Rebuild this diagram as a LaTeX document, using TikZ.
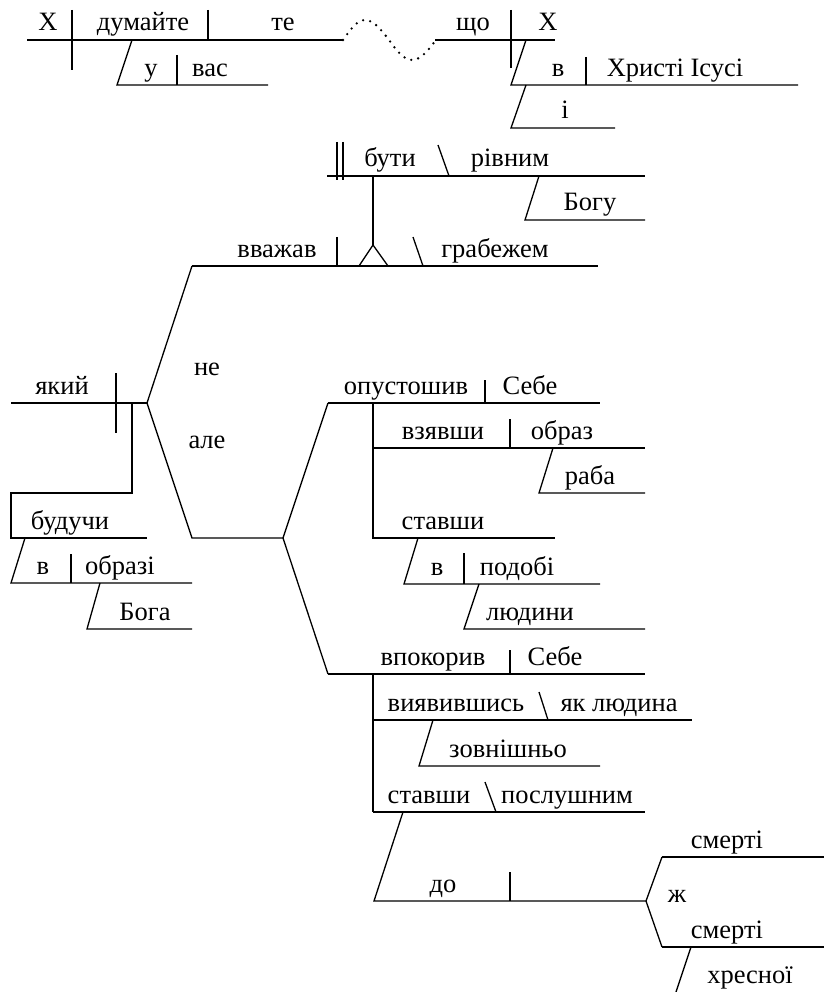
\documentclass[tikz,border=0pt]{standalone}
\usepackage{fontspec}
\setmainfont{Liberation Serif}
\begin{document}
\begin{tikzpicture}[x=1pt,y=-1pt,line width=1.3pt,
  w/.style={anchor=base,inner sep=0pt,font=\fontsize{26.5}{31}\selectfont},
  dotwave/.style={line width=2.6pt,line cap=round,dash pattern=on 0pt off 7.2pt}]
\useasboundingbox (0,0) rectangle (824,992);
% ---------- top clause
\draw (27,40) -- (343,40);
\draw (72,10) -- (72,70);
\draw (208,10) -- (208,40);
\draw (132,40) -- (117,85) -- (268,85);
\draw (177,55) -- (177,85);
\node[w] (x1) at (48,31) {X};
\node[w] (dum) at (143,31) {думайте};
\node[w] (te) at (283,31) {те};
\node[w] (u) at (151,77) {у};
\node[w] (vas) at (210,77) {вас};
\draw[dotwave] (343,40) sin (365,20) cos (389,40) sin (412,60) cos (436,40);
\draw (435,40) -- (555,40);
\draw (511,10) -- (511,68);
\draw (526,40) -- (511,85) -- (798,85);
\draw (586,57) -- (586,85);
\draw (526,85) -- (511,128) -- (615,128);
\node[w] (shcho) at (473,31) {що};
\node[w] (x2) at (548,31) {X};
\node[w] (v1) at (558,77) {в};
\node[w] (hr) at (675,77) {Христі Ісусі};
\node[w] (i) at (565,119) {і};
% ---------- бути рівним
\draw (327,176) -- (645,176);
\draw (337,142) -- (337,180);
\draw (343,142) -- (343,180);
\draw (438,145) -- (449,176);
\draw (539,176) -- (525,220) -- (645,220);
\node[w] (buty) at (390,167) {бути};
\node[w] (rivn) at (510,167) {рівним};
\node[w] (bogu) at (590,211) {Богу};
\draw (373,176) -- (373,245);
\draw (373,245) -- (359,266) (373,245) -- (388,266);
% ---------- вважав
\draw (192,266) -- (598,266);
\draw (337,237) -- (337,266);
\draw (413,237) -- (423,266);
\node[w] (vvazh) at (277,257) {вважав};
\node[w] (grab) at (495,257) {грабежем};
% ---------- який
\draw (11,403) -- (147,403);
\draw (116,373) -- (116,433);
\draw (132,403) -- (132,493) -- (11,493) -- (11,538) -- (147,538);
\node[w] (yakyi) at (62,394) {який};
\node[w] (buduchy) at (70,529) {будучи};
\draw (25,538) -- (11,583) -- (192,583);
\draw (71,554) -- (71,583);
\node[w] (v2) at (43,574) {в};
\node[w] (obrazi) at (120,574) {образі};
\draw (100,583) -- (87,629) -- (192,629);
\node[w] (boga) at (145,620) {Бога};
% ---------- compound predicate fork
\draw (192,266) -- (147,403) -- (192,538) -- (283,538);
\node[w] (ne) at (207,375) {не};
\node[w] (ale) at (207,448) {але};
\draw (328,403) -- (283,538) -- (328,674);
% ---------- опустошив
\draw (328,403) -- (600,403);
\draw (485,380) -- (485,403);
\node[w] (opust) at (406,394) {опустошив};
\node[w] (sebe1) at (530,394) {Себе};
\draw (373,403) -- (373,538) -- (555,538);
\draw (373,448) -- (645,448);
\draw (510,419) -- (510,448);
\node[w] (vziav) at (443,439) {взявши};
\node[w] (obraz) at (562,439) {образ};
\draw (553,448) -- (539,493) -- (645,493);
\node[w] (raba) at (590,484) {раба};
\node[w] (stav1) at (443,529) {ставши};
\draw (418,538) -- (404,584) -- (600,584);
\draw (464,553) -- (464,584);
\node[w] (v3) at (437,575) {в};
\node[w] (podobi) at (517,575) {подобі};
\draw (479,584) -- (464,629) -- (645,629);
\node[w] (liud) at (530,620) {людини};
% ---------- впокорив
\draw (328,674) -- (645,674);
\draw (510,650) -- (510,674);
\node[w] (vpok) at (433,665) {впокорив};
\node[w] (sebe2) at (555,665) {Себе};
\draw (373,674) -- (373,812);
\draw (373,720) -- (692,720);
\draw (539,692) -- (548,720);
\node[w] (vyiav) at (456,711) {виявившись};
\node[w] (yak) at (619,711) {як людина};
\draw (433,720) -- (419,766) -- (600,766);
\node[w] (zovn) at (508,757) {зовнішньо};
\draw (373,812) -- (645,812);
\draw (485,782) -- (496,812);
\node[w] (stav2) at (429,803) {ставши};
\node[w] (posl) at (567,803) {послушним};
\draw (403,812) -- (374,901) -- (646,901);
\draw (510,872) -- (510,901);
\node[w] (do) at (443,892) {до};
\draw (662,857) -- (646,901) -- (662,947);
\draw (662,857) -- (824,857);
\draw (662,947) -- (824,947);
\node[w] (smert1) at (727,848) {смерті};
\node[w] (zh) at (677,902) {ж};
\node[w] (smert2) at (727,938) {смерті};
\draw (691,947) -- (676,992);
\node[w] (hresn) at (750,983) {хресної};
\end{tikzpicture}
\end{document}
